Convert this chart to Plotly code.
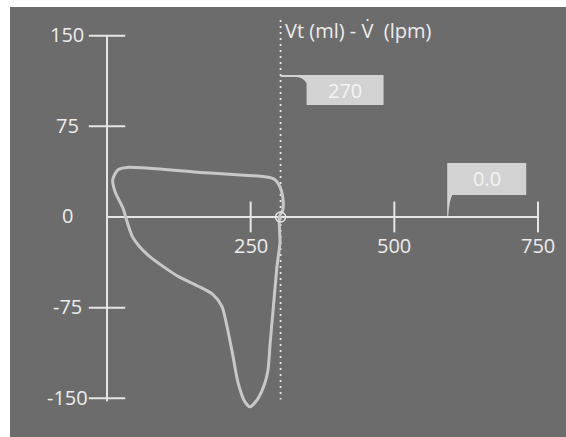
import plotly.graph_objects as go

# ---- data ----
volume_ml = [300, 301, 296, 289, 284, 280, 275, 263, 249, 240, 228, 218, 209, 200,
             184, 162, 127, 110, 70, 45, 35, 28, 14, 10, 19, 35, 157, 278, 292,
             301, 306, 306, 300]
flow_lpm = [0, -21, -40, -77, -104, -127, -137, -150, -157, -153, -137, -112, -91,
            -74, -64, -58, -50, -45, -31, -17, -4, 7, 21, 31, 39, 41, 37, 33, 31,
            25, 16, 6, 0]

x_ticks = [250, 500, 750]
x_tick_labels = ["250", "500", "750"]
y_ticks = [150, 75, -75, -150]
y_label_vals = [150, 75, 0, -75, -150]
y_tick_labels = ["150", "75", "0", "-75", "-150"]

cursor_volume = 302
cursor_label = "270"
flow_marker_volume = 592
flow_label = "0.0"
title_text = "Vt (ml) - V\u0307  (lpm)"

# ---- style ----
BG = "#6c6c6c"
AXIS = "#e6e6e6"
CURVE = "#c8c8c8"
BOX = "#d2d2d2"
BOXTXT = "#f4f4f4"
LBL = "#ececec"
FONT = "Open Sans"

W, H = 566, 437
ML, MT = 10, 7
xr = [-168.8, 798.7]
yr = [-182.0, 173.7]
px_x = (W - ML) / (xr[1] - xr[0])   # pixels per data unit
px_y = (H - MT) / (yr[1] - yr[0])


def dx(p):
    return p / px_x


def dy(p):
    return p / px_y


fig = go.Figure()

# axes
fig.add_trace(go.Scatter(x=[0, 0], y=[y_ticks[-1] - dy(3), y_ticks[0]], mode="lines",
                         line=dict(color=AXIS, width=2), hoverinfo="skip"))
fig.add_trace(go.Scatter(x=[0, x_ticks[-1]], y=[0, 0], mode="lines",
                         line=dict(color=AXIS, width=2), hoverinfo="skip"))
# tick marks
fig.add_trace(go.Scatter(x=[0] * len(y_ticks), y=y_ticks, mode="markers",
                         marker=dict(symbol="line-ew", size=26, color=AXIS,
                                     line=dict(color=AXIS, width=2)),
                         hoverinfo="skip"))
fig.add_trace(go.Scatter(x=x_ticks, y=[0] * len(x_ticks), mode="markers",
                         marker=dict(symbol="line-ns", size=22, color=AXIS,
                                     line=dict(color=AXIS, width=2)),
                         hoverinfo="skip"))

# cursor line
fig.add_trace(go.Scatter(x=[cursor_volume, cursor_volume], y=[yr[1] - dy(13), -151],
                         mode="lines", line=dict(color=AXIS, width=1.8, dash="2px,4px"),
                         hoverinfo="skip"))

# loop
fig.add_trace(go.Scatter(x=volume_ml, y=flow_lpm, mode="lines",
                         line=dict(color=CURVE, width=3, shape="spline", smoothing=0.7),
                         hoverinfo="skip"))

# cursor marker
fig.add_trace(go.Scatter(x=[cursor_volume], y=[0], mode="markers",
                         marker=dict(symbol="circle-open", size=10, color=AXIS,
                                     line=dict(color=AXIS, width=1.5)),
                         hoverinfo="skip"))

annotations = []
# y tick labels
for v, t in zip(y_label_vals, y_tick_labels):
    annotations.append(dict(x=0, y=v, text=t, showarrow=False, xanchor="center",
                            yanchor="middle", xshift=-40, yshift=1,
                            font=dict(family=FONT, size=20, color=LBL)))
# x tick labels
for v, t in zip(x_ticks, x_tick_labels):
    annotations.append(dict(x=v, y=0, text=t, showarrow=False, xanchor="center",
                            yanchor="middle", yshift=-29,
                            font=dict(family=FONT, size=20, color=LBL)))
# title
annotations.append(dict(x=cursor_volume, y=yr[1] - dy(23), text=title_text, showarrow=False,
                        xanchor="left", yanchor="middle", xshift=2,
                        font=dict(family=FONT, size=20, color=LBL)))

# callout 1 (volume)
c1_top = yr[1] - dy(68)
c1_l = cursor_volume + dx(26)
c1_r = cursor_volume + dx(103)
c1_b = c1_top - dy(30)
path1 = (f"M {cursor_volume},{c1_top} L {c1_r},{c1_top} L {c1_r},{c1_b} L {c1_l},{c1_b} "
         f"L {c1_l},{c1_top - dy(8)} Q {c1_l - dx(4)},{c1_top - dy(2)} {c1_l - dx(10)},{c1_top - dy(2)} "
         f"L {cursor_volume},{c1_top - dy(2)} Z")
annotations.append(dict(x=(c1_l + c1_r) / 2, y=(c1_top + c1_b) / 2, text=cursor_label,
                        showarrow=False, xanchor="center", yanchor="middle",
                        font=dict(family=FONT, size=20, color=BOXTXT)))

# callout 2 (flow)
c2_l = flow_marker_volume
c2_r = flow_marker_volume + dx(79)
c2_b = dy(22)
c2_t = dy(54)
path2 = (f"M {c2_l},{c2_t} L {c2_r},{c2_t} L {c2_r},{c2_b} L {c2_l + dx(5)},{c2_b} "
         f"Q {c2_l + dx(2)},{c2_b - dy(6)} {c2_l + dx(1)},{dy(1)} L {c2_l},{dy(1)} Z")
annotations.append(dict(x=(c2_l + c2_r) / 2, y=(c2_t + c2_b) / 2, text=flow_label,
                        showarrow=False, xanchor="center", yanchor="middle",
                        font=dict(family=FONT, size=20, color=BOXTXT)))

shapes = [
    dict(type="path", xref="x", yref="y", path=path1, fillcolor=BOX, line=dict(width=0),
         layer="above"),
    dict(type="path", xref="x", yref="y", path=path2, fillcolor=BOX, line=dict(width=0),
         layer="above"),
]

fig.update_layout(
    width=W, height=H,
    margin=dict(l=ML, r=0, t=MT, b=0, pad=0),
    paper_bgcolor="white", plot_bgcolor=BG,
    showlegend=False,
    xaxis=dict(range=xr, visible=False, fixedrange=True),
    yaxis=dict(range=yr, visible=False, fixedrange=True),
    annotations=annotations, shapes=shapes,
)

fig.write_html("out.html", config={"displayModeBar": False},
               post_script="document.body.style.margin='0';document.body.style.overflow='hidden';")
